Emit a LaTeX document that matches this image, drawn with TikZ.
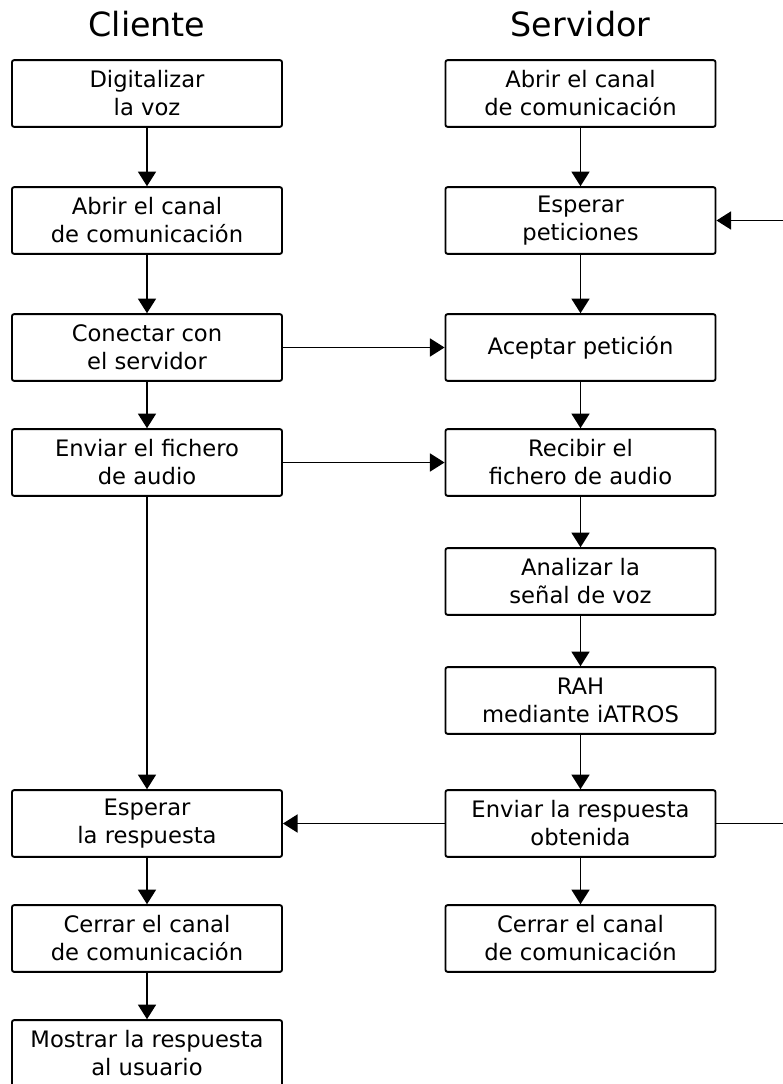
\documentclass[tikz,border=0pt]{standalone}
\usepackage{fontspec}
\setmainfont{DejaVu Sans}
\usetikzlibrary{arrows.meta}
\begin{document}
\begin{tikzpicture}[x=0.75pt,y=-0.75pt,
  box/.style={draw, line width=1.4pt, rounded corners=1.5pt,
    minimum width=202.5pt, minimum height=50pt, align=center,
    inner sep=0pt, font=\fontsize{17}{21}\selectfont},
  title/.style={font=\fontsize{25}{30}\selectfont, inner sep=0pt, anchor=base},
  flow/.style={line width=1.4pt, -{Triangle[length=11pt,width=13.5pt]}},
  plain/.style={line width=1.4pt},
]
\useasboundingbox (0,0) rectangle (782,1084);

% column titles
\node[title] (tc) at (147,37) {Cliente};
\node[title] (ts) at (580.5,37) {Servidor};

% client steps
\node[box] (c1) at (147,93.5)  {Digitalizar\\la voz};
\node[box] (c2) at (147,220.5) {Abrir el canal\\de comunicación};
\node[box] (c3) at (147,347.5) {Conectar con\\el servidor};
\node[box] (c4) at (147,462.5) {Enviar el fichero\\de audio};
\node[box] (c7) at (147,823.5) {Esperar\\la respuesta};
\node[box] (c8) at (147,938.5) {Cerrar el canal\\de comunicación};
\node[box] (c9) at (147,1053.5) {Mostrar la respuesta\\al usuario};

% server steps
\node[box] (s1) at (580.5,93.5)  {Abrir el canal\\de comunicación};
\node[box] (s2) at (580.5,220.5) {Esperar\\peticiones};
\node[box] (s3) at (580.5,347.5) {Aceptar petición};
\node[box] (s4) at (580.5,462.5) {Recibir el\\fichero de audio};
\node[box] (s5) at (580.5,581.5) {Analizar la\\señal de voz};
\node[box] (s6) at (580.5,700.5) {RAH\\mediante iATROS};
\node[box] (s7) at (580.5,823.5) {Enviar la respuesta\\obtenida};
\node[box] (s8) at (580.5,938.5) {Cerrar el canal\\de comunicación};

% client flow
\draw[flow] (c1) -- (c2);
\draw[flow] (c2) -- (c3);
\draw[flow] (c3) -- (c4);
\draw[flow] (c4) -- (c7);
\draw[flow] (c7) -- (c8);
\draw[flow] (c8) -- (c9);

% server flow
\draw[flow] (s1) -- (s2);
\draw[flow] (s2) -- (s3);
\draw[flow] (s3) -- (s4);
\draw[flow] (s4) -- (s5);
\draw[flow] (s5) -- (s6);
\draw[flow] (s6) -- (s7);
\draw[flow] (s7) -- (s8);

% messages between client and server
\draw[flow] (c3) -- (s3);
\draw[flow] (c4) -- (s4);
\draw[flow] (s7) -- (c7);

% server loops back to wait for new requests
\coordinate (loop) at (800,0);
\draw[flow] (s7.east) -- (s7.east -| loop) |- (s2.east);
\end{tikzpicture}
\end{document}
